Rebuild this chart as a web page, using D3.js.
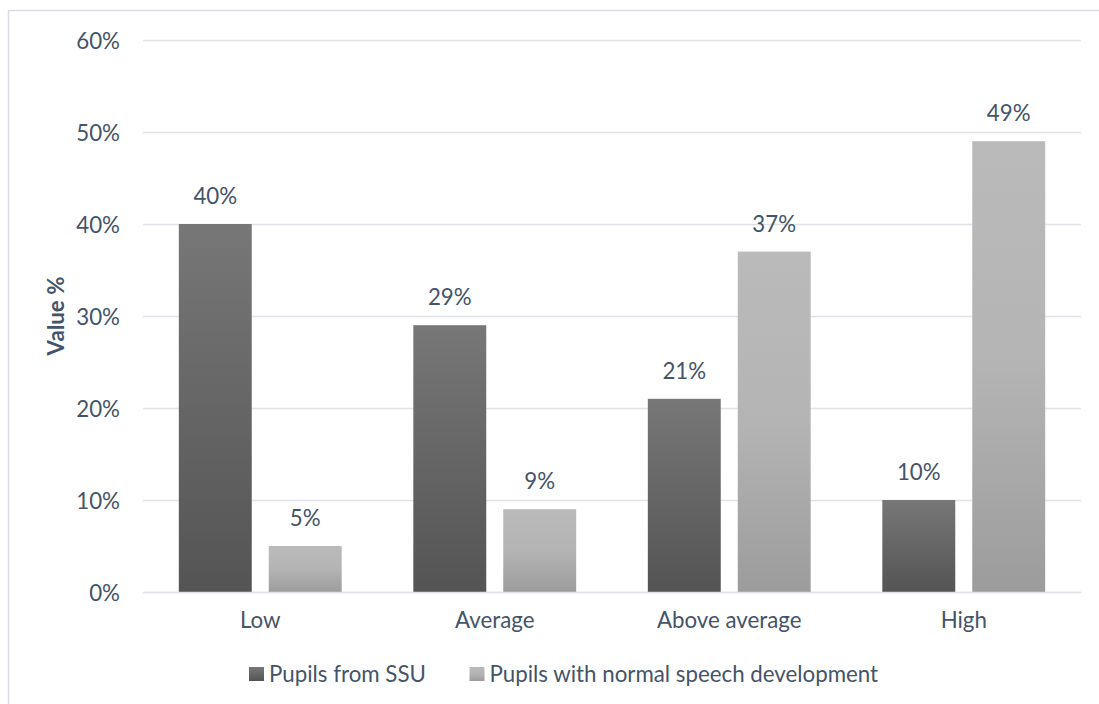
<!DOCTYPE html>
<html><head><meta charset="utf-8">
<script src="https://cdn.jsdelivr.net/npm/d3@7"></script>
<style>
html,body{margin:0;padding:0;background:#fff;overflow:hidden}
text{font-family:Lato,"Noto Sans",sans-serif;fill:#44546a}
</style></head>
<body>
<svg id="chart" width="1099" height="704"></svg>
<script>
const categories = ["Low", "Average", "Above average", "High"];
const seriesNames = ["Pupils from SSU", "Pupils with normal speech development"];
const ssuValues = [40, 29, 21, 10];
const normalValues = [5, 9, 37, 49];
const yTicks = [0, 10, 20, 30, 40, 50, 60];
const axisTitle = "Value %";

const svg = d3.select("#chart");
const W = 1099, H = 704;
const FS = "22.3px";
const m = {left: 143, right: 18, top: 40, bottom: 112};
const plotW = W - m.left - m.right, plotH = H - m.top - m.bottom;

// frame
svg.append("rect").attr("x", 8.5).attr("y", 10.5).attr("width", W + 20).attr("height", H + 20)
  .attr("fill", "none").attr("stroke", "#d9dde3").attr("stroke-width", 1.5);

const defs = svg.append("defs");
const g1 = defs.append("linearGradient").attr("id", "gDark").attr("x1", 0).attr("y1", 0).attr("x2", 0).attr("y2", 1);
g1.append("stop").attr("offset", "0").attr("stop-color", "#777777");
g1.append("stop").attr("offset", "1").attr("stop-color", "#545454");
const g2 = defs.append("linearGradient").attr("id", "gLight").attr("x1", 0).attr("y1", 0).attr("x2", 0).attr("y2", 1);
g2.append("stop").attr("offset", "0").attr("stop-color", "#bababa");
g2.append("stop").attr("offset", "0.5").attr("stop-color", "#b4b4b4");
g2.append("stop").attr("offset", "1").attr("stop-color", "#9c9c9c");
const fills = ["url(#gDark)", "url(#gLight)"];

const x0 = d3.scaleBand().domain(categories).range([m.left, m.left + plotW]).paddingInner(0).paddingOuter(0);
const bw = x0.bandwidth();
const barW = bw * 0.311, gap = bw * 0.0725;
const x1 = d3.scaleBand().domain([0, 1]).range([(bw - 2 * barW - gap) / 2, (bw + 2 * barW + gap) / 2]).paddingInner(gap / (barW + gap)).paddingOuter(0);
const y = d3.scaleLinear().domain([0, 60]).range([m.top + plotH, m.top]);

// gridlines
const grid = svg.append("g")
  .call(d3.axisLeft(y).tickValues(yTicks).tickSize(-plotW).tickFormat(""))
  .attr("transform", `translate(${m.left},0)`);
grid.select(".domain").remove();
grid.selectAll("line").attr("stroke", "#dfe3e8").attr("stroke-width", 1.4);

// y tick labels
const ya = svg.append("g").attr("transform", `translate(${m.left},0)`)
  .call(d3.axisLeft(y).tickValues(yTicks).tickSize(0).tickPadding(23).tickFormat(d => d + "%"));
ya.select(".domain").remove();
ya.selectAll("text").style("font-size", FS).attr("fill", "#44546a").attr("dy", "0.36em");

// bars
const series = [ssuValues, normalValues];
const groups = svg.append("g").selectAll("g").data(categories).join("g")
  .attr("transform", d => `translate(${x0(d)},0)`);
groups.selectAll("rect").data((d, i) => series.map((s, k) => ({k, v: s[i]}))).join("rect")
  .attr("x", d => x1(d.k)).attr("width", x1.bandwidth())
  .attr("y", d => y(d.v)).attr("height", d => y(0) - y(d.v))
  .attr("fill", d => fills[d.k]);
groups.selectAll("text").data((d, i) => series.map((s, k) => ({k, v: s[i]}))).join("text")
  .attr("x", d => x1(d.k) + x1.bandwidth() / 2).attr("y", d => y(d.v) - 20)
  .attr("text-anchor", "middle").style("font-size", FS).text(d => d.v + "%");

// x labels
const xa = svg.append("g").attr("transform", `translate(0,${y(0)})`)
  .call(d3.axisBottom(x0).tickSize(0).tickPadding(20));
xa.select(".domain").attr("stroke", "#dfe3e8").attr("stroke-width", 1.4);
xa.selectAll("text").style("font-size", FS).attr("fill", "#44546a");

// axis title
svg.append("text").attr("transform", `translate(64,${m.top + plotH / 2}) rotate(-90)`)
  .attr("text-anchor", "middle").style("font-size", FS).style("font-weight", "bold").text(axisTitle);

// legend
const legX = [249, 469.5];
const leg = svg.append("g").selectAll("g").data(seriesNames).join("g")
  .attr("transform", (d, i) => `translate(${legX[i]},667)`);
leg.append("rect").attr("width", 15).attr("height", 14).attr("fill", (d, i) => fills[i]);
leg.append("text").attr("x", 20).attr("y", 14.5).style("font-size", FS).text(d => d);
</script>
</body></html>
